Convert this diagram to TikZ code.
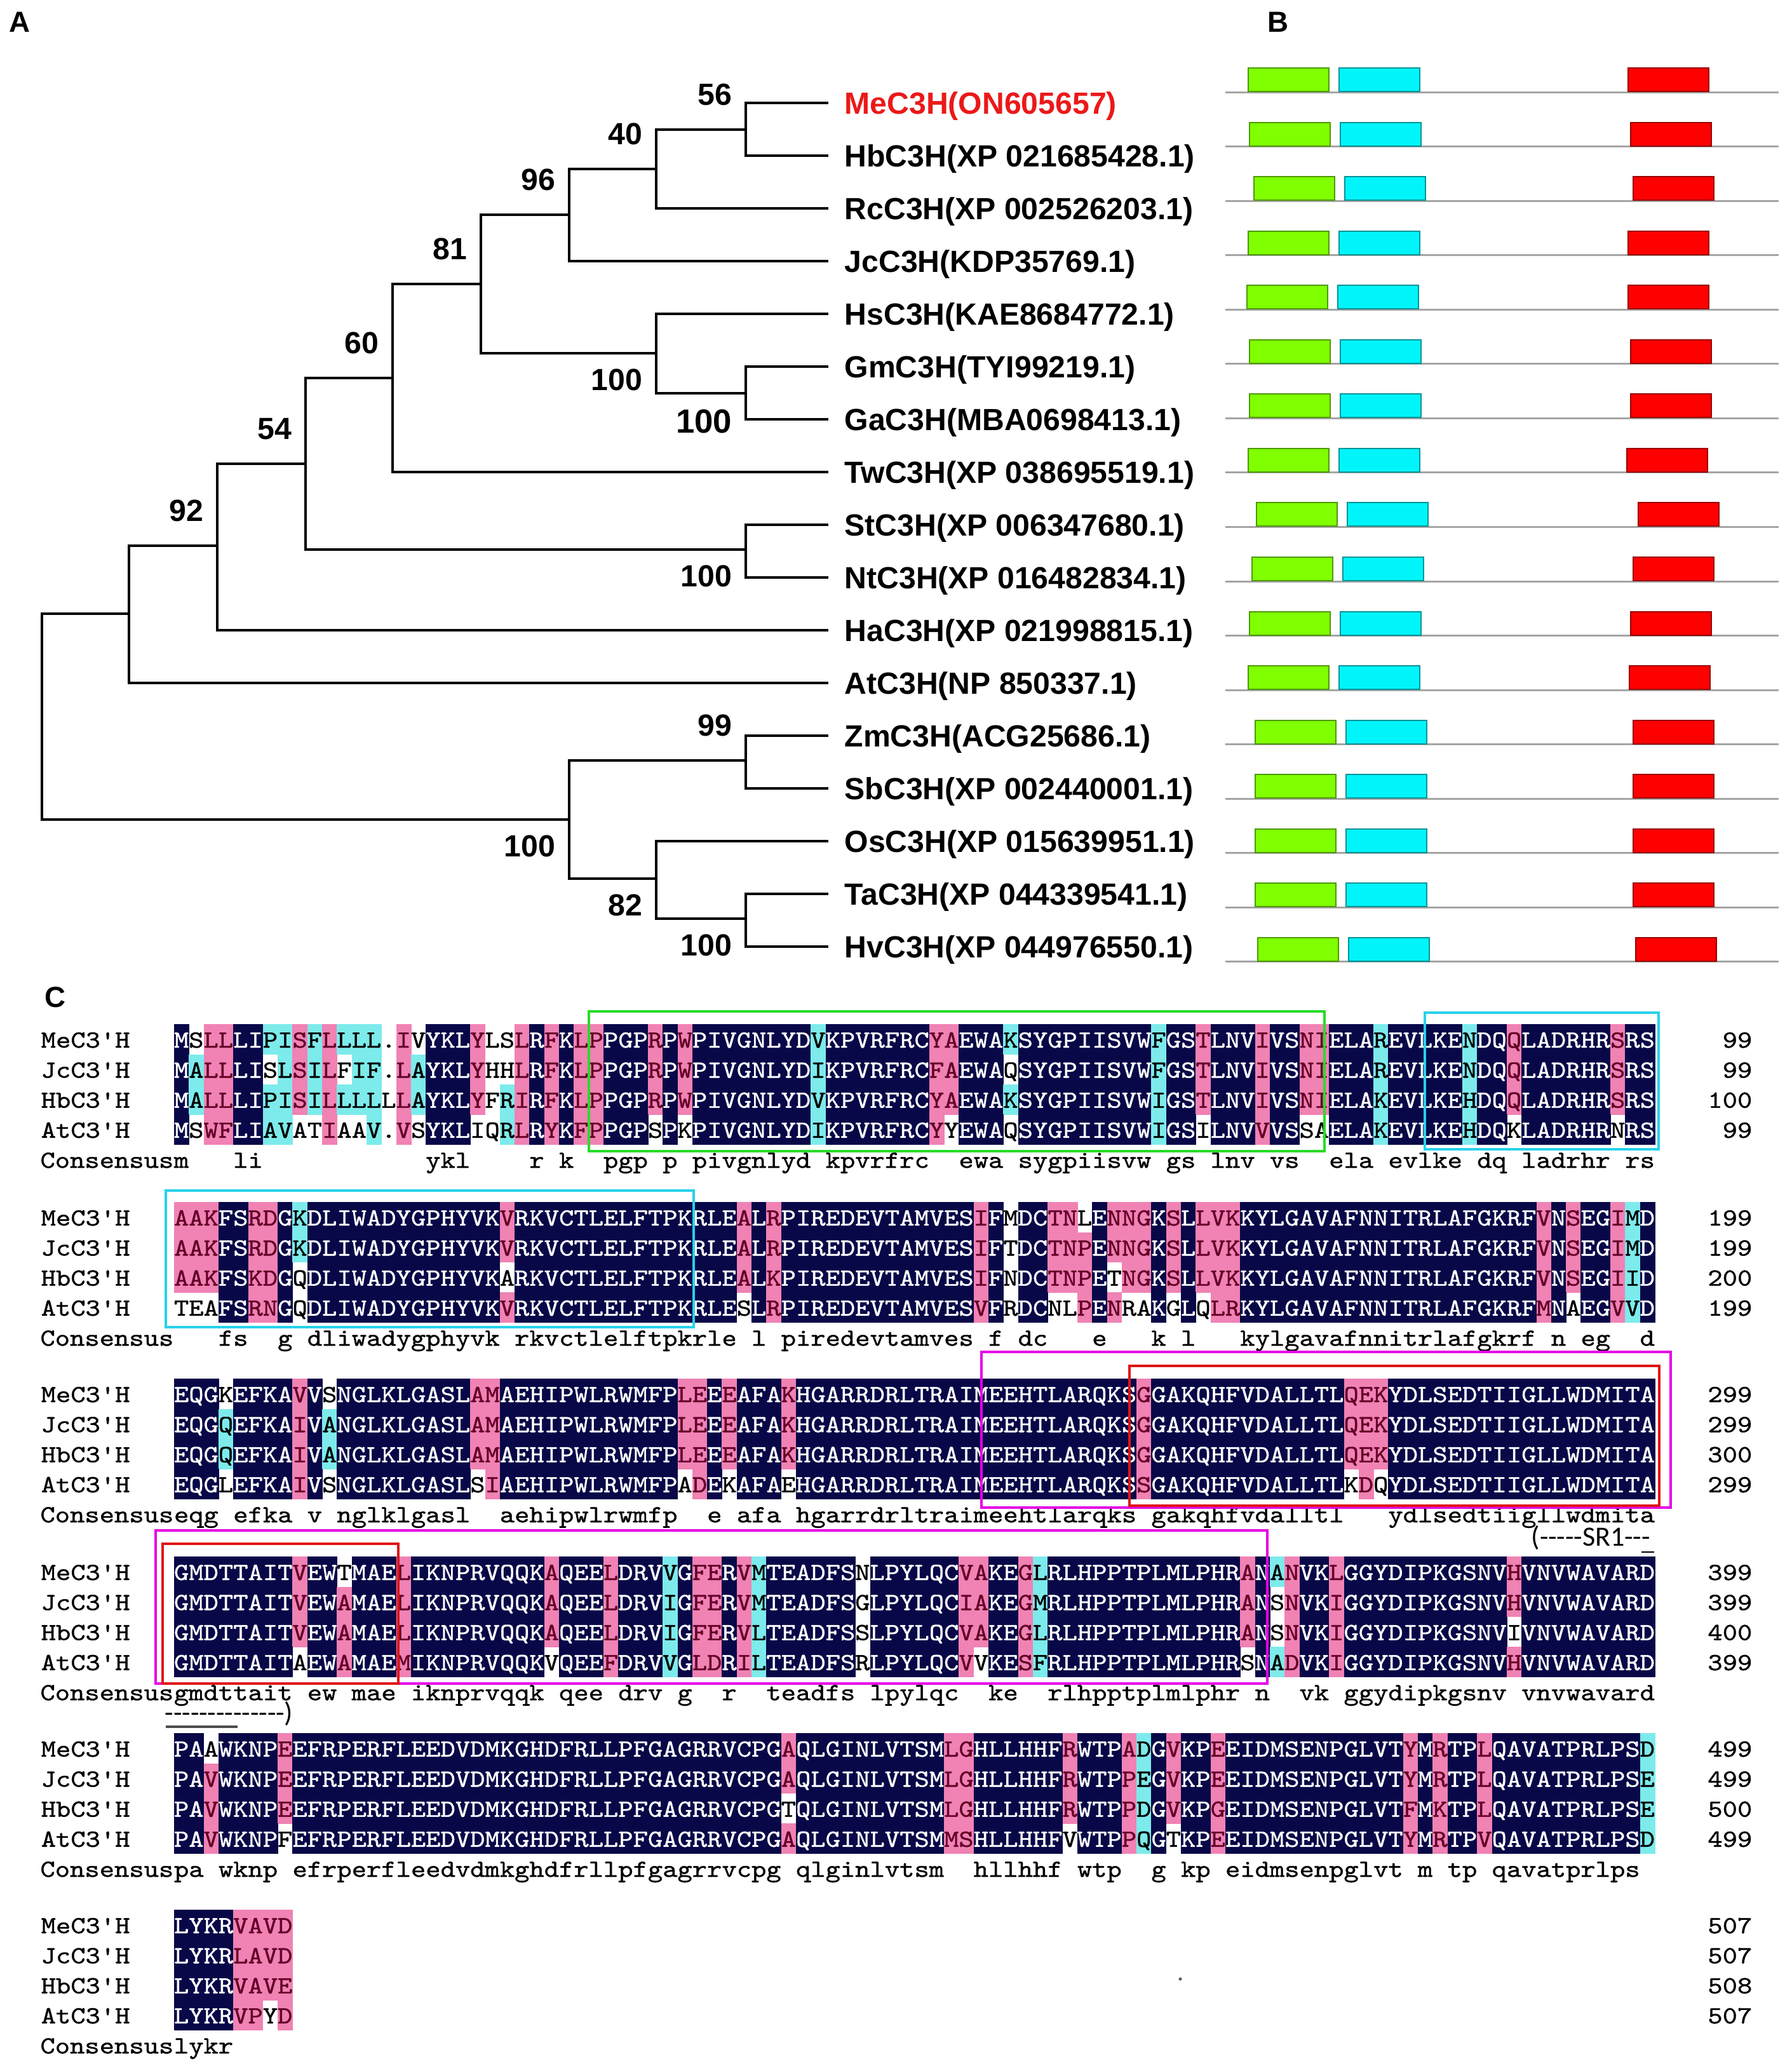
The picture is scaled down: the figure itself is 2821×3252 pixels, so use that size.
\documentclass[tikz,border=0pt]{standalone}
\usepackage{fontspec}
\setmainfont{Liberation Sans}
\setmonofont{lmmono10-regular.otf}[FakeStretch=1.1487, FakeBold=1]
\newfontfamily\srfont{Carlito}
\usetikzlibrary{calc}

\definecolor{alnavy}{RGB}{8,8,72}
\definecolor{alpink}{RGB}{240,130,180}
\definecolor{alcyan}{RGB}{125,235,235}
\definecolor{alpinktx}{RGB}{100,0,40}
\definecolor{meRed}{RGB}{235,25,25}
\definecolor{domGreen}{RGB}{128,255,0}
\definecolor{domCyan}{RGB}{0,245,250}
\definecolor{domRed}{RGB}{255,0,0}
\definecolor{boxGreen}{RGB}{40,220,40}
\definecolor{boxCyan}{RGB}{40,210,235}
\definecolor{boxMag}{RGB}{230,0,230}
\definecolor{boxRed}{RGB}{225,20,20}

% one residue cell: #1 letter, #2 colour code (n navy, p pink, c cyan, w none)
\newcounter{alc}
\newcommand\alcell[2]{%
  \pgfmathsetmacro\alxx{274+\thealc*23.31}%
  \if#2w\else\fill[bg#2] (\alxx,\aly-23.8) rectangle +(23.9,47.8);\fi
  \node[res,tx#2] (\altag-\thealc) at (\alxx+11.65,\aly+13) {#1};%
  \stepcounter{alc}}
\def\aldrop#1{}
\def\alkeep#1{#1}
\def\alnext#1#2\relax#3#4\relax{%
  \alcell{#1}{#3}%
  \ifx\relax#2\relax\expandafter\aldrop\else\expandafter\alkeep\fi
  {\alnext#2\relax#4\relax}}
\def\alcnext#1#2\relax{%
  \alcell{#1}{w}%
  \ifx\relax#2\relax\expandafter\aldrop\else\expandafter\alkeep\fi
  {\alcnext#2\relax}}
\newcommand\alrow[4]{\def\altag{#1}\def\aly{#2}\setcounter{alc}{0}\alnext#3\relax#4\relax}
\newcommand\alcons[3]{%
  \def\altag{#1}\def\aly{#2}\setcounter{alc}{0}\alcnext#3\relax
  \node[seqtxt,anchor=base east] (cl#1) at (274,#2+13) {Consensus};}
\newcommand\alname[4]{%
  \node[seqtxt,anchor=base west] (nm#1) at (64,#2+13) {#3};
  \node[seqtxt,anchor=base east] (no#1) at (2759,#2+13) {#4};}

\begin{document}
\begin{tikzpicture}[
    x=0.1mm, y=-0.1mm,
    branch/.style={line width=0.4mm, line cap=rect},
    leaf/.style={font=\fontsize{13.7pt}{15pt}\selectfont\bfseries, inner sep=0},
    bs/.style={font=\fontsize{13.7pt}{15pt}\selectfont\bfseries, inner sep=0, anchor=east},
    panel/.style={font=\fontsize{13pt}{15pt}\selectfont\bfseries, inner sep=0},
    dline/.style={draw={rgb,255:red,165;green,165;blue,165}, line width=0.3mm},
    dom/.style={anchor=south west, minimum width=12.7mm, minimum height=3.7mm,
                inner sep=0, line width=0.2mm},
    seqtxt/.style={font=\ttfamily\fontsize{11pt}{13pt}\selectfont, inner sep=0},
    res/.style={seqtxt, anchor=base},
    bgn/.style={fill=alnavy}, bgp/.style={fill=alpink}, bgc/.style={fill=alcyan},
    txn/.style={text=white}, txp/.style={text=alpinktx},
    txc/.style={text=black}, txw/.style={text=black},
    regbox/.style={line width=0.35mm},
    sr/.style={font=\srfont\fontsize{12.5pt}{14pt}\selectfont, inner sep=0, anchor=west}
  ]
  \useasboundingbox (0,0) rectangle (2821,3252);
  \fill[white] (0,0) rectangle (2821,3252);

  % Panel letters
  \node[panel] (pA) at (31,35) {A};
  \node[panel] (pB) at (2012,35) {B};
  \node[panel] (pC) at (87,1570) {C};

  % Tree: leaves
  \foreach \nm [count=\i] in {{MeC3H(ON605657)},{HbC3H(XP 021685428.1)},
      {RcC3H(XP 002526203.1)},{JcC3H(KDP35769.1)},{HsC3H(KAE8684772.1)},
      {GmC3H(TYI99219.1)},{GaC3H(MBA0698413.1)},{TwC3H(XP 038695519.1)},
      {StC3H(XP 006347680.1)},{NtC3H(XP 016482834.1)},{HaC3H(XP 021998815.1)},
      {AtC3H(NP 850337.1)},{ZmC3H(ACG25686.1)},{SbC3H(XP 002440001.1)},
      {OsC3H(XP 015639951.1)},{TaC3H(XP 044339541.1)},{HvC3H(XP 044976550.1)}} {
    \pgfmathsetmacro{\ly}{79+83*\i}
    \pgfmathsetmacro{\lcol}{\i == 1 ? "meRed" : "black"}
    \coordinate (t\i) at (1302,\ly);
    \node[leaf, text=\lcol, anchor=base west] (lf\i) at (1329,\ly+17) {\nm};
  }

  % Tree: internal nodes
  \coordinate (nMeHb) at (1174,203.5);
  \coordinate (nRc) at (1033,265.75);
  \coordinate (nJc) at (896,338.4);
  \coordinate (nGmGa) at (1174,618.5);
  \coordinate (nHs) at (1033,556.25);
  \coordinate (nEu) at (757,447.3);
  \coordinate (nTw) at (618,595.2);
  \coordinate (nStNt) at (1174,864.5);
  \coordinate (nSol) at (481,729.8);
  \coordinate (nHa) at (342,859.4);
  \coordinate (nAt) at (203,965.7);
  \coordinate (nZmSb) at (1174,1196.5);
  \coordinate (nTaHv) at (1174,1445.5);
  \coordinate (nOs) at (1033,1383);
  \coordinate (nMono) at (896,1290);
  \coordinate (nRoot) at (66,1127.9);

  \draw[branch] (t1) -| (nMeHb) |- (t2);
  \draw[branch] (nMeHb) -| (nRc) |- (t3);
  \draw[branch] (nRc) -| (nJc) |- (t4);
  \draw[branch] (t6) -| (nGmGa) |- (t7);
  \draw[branch] (t5) -| (nHs) |- (nGmGa);
  \draw[branch] (nJc) -| (nEu) |- (nHs);
  \draw[branch] (nEu) -| (nTw) |- (t8);
  \draw[branch] (t9) -| (nStNt) |- (t10);
  \draw[branch] (nTw) -| (nSol) |- (nStNt);
  \draw[branch] (nSol) -| (nHa) |- (t11);
  \draw[branch] (nHa) -| (nAt) |- (t12);
  \draw[branch] (t13) -| (nZmSb) |- (t14);
  \draw[branch] (t16) -| (nTaHv) |- (t17);
  \draw[branch] (t15) -| (nOs) |- (nTaHv);
  \draw[branch] (nZmSb) -| (nMono) |- (nOs);
  \draw[branch] (nAt) -| (nRoot) |- (nMono);

  % Bootstrap values
  \node[bs] (bsMeHb) at ($(nMeHb)+(-21,-55)$) {56};
  \node[bs] (bsRc) at ($(nRc)+(-21,-55)$) {40};
  \node[bs] (bsJc) at ($(nJc)+(-21,-55)$) {96};
  \node[bs] (bsEu) at ($(nEu)+(-21,-55)$) {81};
  \node[bs] (bsTw) at ($(nTw)+(-21,-55)$) {60};
  \node[bs] (bsSol) at ($(nSol)+(-21,-55)$) {54};
  \node[bs] (bsHa) at ($(nHa)+(-21,-55)$) {92};
  \node[bs] (bsZmSb) at ($(nZmSb)+(-21,-55)$) {99};
  \node[bs] (bsHs) at ($(nHs)+(-21,42)$) {100};
  \node[bs, font=\fontsize{15pt}{17pt}\selectfont\bfseries] (bsGmGa) at ($(nGmGa)+(-21,45)$) {100};
  \node[bs] (bsStNt) at ($(nStNt)+(-21,42)$) {100};
  \node[bs] (bsMono) at ($(nMono)+(-21,42)$) {100};
  \node[bs] (bsOs) at ($(nOs)+(-21,42)$) {82};
  \node[bs] (bsTaHv) at ($(nTaHv)+(-21,42)$) {100};

  % Domains (B)
  \foreach \gx/\rx [count=\i] in {1964/2562,1966/2566,1973/2570,1964/2562,1962/2562,
      1966/2566,1966/2566,1964/2560,1977/2578,1970/2570,1966/2566,1964/2564,
      1975/2570,1975/2570,1975/2570,1975/2570,1979/2574} {
    \pgfmathsetmacro{\by}{145+85.56*(\i-1)}
    \coordinate (bl\i) at (1929,\by);
    \coordinate (br\i) at (2800,\by);
    \draw[dline] (bl\i) -- (br\i);
    \node[dom, fill=domGreen, draw=domGreen!60!black] (dg\i) at (\gx,\by) {};
    \node[dom, fill=domCyan, draw=domCyan!60!black] (dc\i) at (\gx+143,\by) {};
    \node[dom, fill=domRed, draw=domRed!60!black] (dr\i) at (\rx,\by) {};
  }

  % Alignment block 1
  \alrow{b1me}{1636}{MSLLLIPISF LLLL.IVYKL YLSLRFKLPP GPRPWPIVGN LYDVKPVRFR CYAEWAKSYG PIISVWFGST LNVIVSNIEL AREVLKENDQ QLADRHRSRS}{nwppnnccpc pcccwpwnnn pwwpnpnppn nnpnpnnnnn nnncnnnnnn nppnnncnnn nnnnnncnnp nnnpnnppnn ncnnnnncnn pnnnnnnpnn}
  \alrow{b1jc}{1683.3}{MALLLISLSI LFIF.LAYKL YHHLRFKLPP GPRPWPIVGN LYDIKPVRFR CFAEWAQSYG PIISVWFGST LNVIVSNIEL AREVLKENDQ QLADRHRSRS}{ncppnnwcpc pwccwpcnnn pwwpnpnppn nnpnpnnnnn nnncnnnnnn nppnnnwnnn nnnnnncnnp nnnpnnppnn ncnnnnncnn pnnnnnnpnn}
  \alrow{b1hb}{1730.6}{MALLLIPISI LLLLLLAYKL YFRIRFKLPP GPRPWPIVGN LYDVKPVRFR CYAEWAKSYG PIISVWIGST LNVIVSNIEL AKEVLKEHDQ QLADRHRSRS}{ncppnnccpc pcccwpcnnn pwcpnpnppn nnpnpnnnnn nnncnnnnnn nppnnncnnn nnnnnncnnp nnnpnnppnn ncnnnnncnn pnnnnnnpnn}
  \alrow{b1at}{1777.9}{MSWFLIAVAT IAAV.VSYKL IQRLRYKFPP GPSPKPIVGN LYDIKPVRFR CYYEWAQSYG PIISVWIGSI LNVVVSSAEL AKEVLKEHDQ KLADRHRNRS}{nwppnnccww pwwcwpwnnn wwcpnpnppn nnwnwnnnnn nnncnnnnnn npwnnnwnnn nnnnnncnnw nnnpnnwwnn ncnnnnncnn wnnnnnnwnn}
  \alname{b1me}{1636}{MeC3'H}{99}
  \alname{b1jc}{1683.3}{JcC3'H}{99}
  \alname{b1hb}{1730.6}{HbC3'H}{100}
  \alname{b1at}{1777.9}{AtC3'H}{99}
  \alcons{c1}{1825.2}{m~~~li~~~~~~~~~~~ykl~~~~r~k~~pgp~p~pivgnlyd~kpvrfrc~~ewa~sygpiisvw~gs~lnv~vs~~ela~evlke~dq~ladrhr~rs}

  % Alignment block 2
  \alrow{b2me}{1916}{AAKFSRDGKD LIWADYGPHY VKVRKVCTLE LFTPKRLEAL RPIREDEVTA MVESIFMDCT NLENNGKSLL VKKYLGAVAF NNITRLAFGK RFVNSEGIMD}{pppnnppncn nnnnnnnnnn nnpnnnnnnn nnnnnnnnpn pnnnnnnnnn nnnnpnwnnp pwnpppnpnp ppnnnnnnnn nnnnnnnnnn nnpnpnnpcn}
  \alrow{b2jc}{1963.3}{AAKFSRDGKD LIWADYGPHY VKVRKVCTLE LFTPKRLEAL RPIREDEVTA MVESIFTDCT NPENNGKSLL VKKYLGAVAF NNITRLAFGK RFVNSEGIMD}{pppnnppncn nnnnnnnnnn nnpnnnnnnn nnnnnnnnpn pnnnnnnnnn nnnnpnwnnp ppnpppnpnp ppnnnnnnnn nnnnnnnnnn nnpnpnnpcn}
  \alrow{b2hb}{2010.6}{AAKFSKDGQD LIWADYGPHY VKARKVCTLE LFTPKRLEAL KPIREDEVTA MVESIFNDCT NPETNGKSLL VKKYLGAVAF NNITRLAFGK RFVNSEGIID}{pppnnppnwn nnnnnnnnnn nnwnnnnnnn nnnnnnnnpn pnnnnnnnnn nnnnpnwnnp ppnwppnpnp ppnnnnnnnn nnnnnnnnnn nnpnpnnpcn}
  \alrow{b2at}{2057.9}{TEAFSRNGQD LIWADYGPHY VKVRKVCTLE LFTPKRLESL RPIREDEVTA MVESVFRDCN LPENRAKGLQ LRKYLGAVAF NNITRLAFGK RFMNAEGVVD}{wwwnnppnwn nnnnnnnnnn nnpnnnnnnn nnnnnnnnwn pnnnnnnnnn nnnnpnwnnw wpnpwwnwnw ppnnnnnnnn nnnnnnnnnn nnpnwnnpcn}
  \alname{b2me}{1916}{MeC3'H}{199}
  \alname{b2jc}{1963.3}{JcC3'H}{199}
  \alname{b2hb}{2010.6}{HbC3'H}{200}
  \alname{b2at}{2057.9}{AtC3'H}{199}
  \alcons{c2}{2105.2}{~~~fs~~g~dliwadygphyvk~rkvctlelftpkrle~l~piredevtamves~f~dc~~~e~~~k~l~~~kylgavafnnitrlafgkrf~n~eg~~d}

  % Alignment block 3
  \alrow{b3me}{2194}{EQGKEFKAVV SNGLKLGASL AMAEHIPWLR WMFPLEEEAF AKHGARRDRL TRAIMEEHTL ARQKSGGAKQ HFVDALLTLQ EKYDLSEDTI IGLLWDMITA}{nnnwnnnnpn wnnnnnnnnn ppnnnnnnnn nnnnppnpnn npnnnnnnnn nnnnnnnnnn nnnnnpnnnn nnnnnnnnnp ppnnnnnnnn nnnnnnnnnn}
  \alrow{b3jc}{2241.3}{EQGQEFKAIV ANGLKLGASL AMAEHIPWLR WMFPLEEEAF AKHGARRDRL TRAIMEEHTL ARQKSGGAKQ HFVDALLTLQ EKYDLSEDTI IGLLWDMITA}{nnncnnnnpn cnnnnnnnnn ppnnnnnnnn nnnnppnpnn npnnnnnnnn nnnnnnnnnn nnnnnpnnnn nnnnnnnnnp ppnnnnnnnn nnnnnnnnnn}
  \alrow{b3hb}{2288.6}{EQGQEFKAIV ANGLKLGASL AMAEHIPWLR WMFPLEEEAF AKHGARRDRL TRAIMEEHTL ARQKSGGAKQ HFVDALLTLQ EKYDLSEDTI IGLLWDMITA}{nnncnnnnpn cnnnnnnnnn ppnnnnnnnn nnnnppnpnn npnnnnnnnn nnnnnnnnnn nnnnnpnnnn nnnnnnnnnp ppnnnnnnnn nnnnnnnnnn}
  \alrow{b3at}{2335.9}{EQGLEFKAIV SNGLKLGASL SIAEHIPWLR WMFPADEKAF AEHGARRDRL TRAIMEEHTL ARQKSSGAKQ HFVDALLTLK DQYDLSEDTI IGLLWDMITA}{nnnwnnnnpn wnnnnnnnnn wpnnnnnnnn nnnnwpnwnn nwnnnnnnnn nnnnnnnnnn nnnnnpnnnn nnnnnnnnnw pwnnnnnnnn nnnnnnnnnn}
  \alname{b3me}{2194}{MeC3'H}{299}
  \alname{b3jc}{2241.3}{JcC3'H}{299}
  \alname{b3hb}{2288.6}{HbC3'H}{300}
  \alname{b3at}{2335.9}{AtC3'H}{299}
  \alcons{c3}{2383.2}{eqg~efka~v~nglklgasl~~aehipwlrwmfp~~e~afa~hgarrdrltraimeehtlarqks~gakqhfvdalltl~~~ydlsedtiigllwdmita}

  % Alignment block 4
  \alrow{b4me}{2474}{GMDTTAITVE WTMAELIKNP RVQQKAQEEL DRVVGFERVM TEADFSNLPY LQCVAKEGLR LHPPTPLMLP HRANANVKLG GYDIPKGSNV HVNVWAVARD}{nnnnnnnnpn nwnnnpnnnn nnnnnpnnnp nnncnppnpc nnnnnnwnnn nnnppnnpcn nnnnnnnnnn nnpncpnnpn nnnnnnnnnn pnnnnnnnnn}
  \alrow{b4jc}{2521.3}{GMDTTAITVE WAMAELIKNP RVQQKAQEEL DRVIGFERVM TEADFSGLPY LQCIAKEGMR LHPPTPLMLP HRANSNVKIG GYDIPKGSNV HVNVWAVARD}{nnnnnnnnpn npnnnpnnnn nnnnnpnnnp nnncnppnpc nnnnnnwnnn nnnppnnpcn nnnnnnnnnn nnpnwpnnpn nnnnnnnnnn pnnnnnnnnn}
  \alrow{b4hb}{2568.6}{GMDTTAITVE WAMAELIKNP RVQQKAQEEL DRVIGFERVL TEADFSSLPY LQCVAKEGLR LHPPTPLMLP HRANSNVKIG GYDIPKGSNV IVNVWAVARD}{nnnnnnnnpn npnnnpnnnn nnnnnpnnnp nnncnppnpc nnnnnnwnnn nnnppnnpcn nnnnnnnnnn nnpnwpnnpn nnnnnnnnnn wnnnnnnnnn}
  \alrow{b4at}{2615.9}{GMDTTAITAE WAMAEMIKNP RVQQKVQEEF DRVVGLDRIL TEADFSRLPY LQCVVKESFR LHPPTPLMLP HRSNADVKIG GYDIPKGSNV HVNVWAVARD}{nnnnnnnnwn npnnnpnnnn nnnnnwnnnp nnncnppnpc nnnnnnwnnn nnnpwnnpcn nnnnnnnnnn nnwncpnnpn nnnnnnnnnn pnnnnnnnnn}
  \alname{b4me}{2474}{MeC3'H}{399}
  \alname{b4jc}{2521.3}{JcC3'H}{399}
  \alname{b4hb}{2568.6}{HbC3'H}{400}
  \alname{b4at}{2615.9}{AtC3'H}{399}
  \alcons{c4}{2663.2}{gmdttait~ew~mae~iknprvqqk~qee~drv~g~~r~~teadfs~lpylqc~~ke~~rlhpptplmlphr~n~~vk~ggydipkgsnv~vnvwavard}

  % Alignment block 5
  \alrow{b5me}{2752}{PAAWKNPEEF RPERFLEEDV DMKGHDFRLL PFGAGRRVCP GAQLGINLVT SMLGHLLHHF RWTPADGVKP EEIDMSENPG LVTYMRTPLQ AVATPRLPSD}{nnwnnnnpnn nnnnnnnnnn nnnnnnnnnn nnnnnnnnnn npnnnnnnnn nnppnnnnnn pnnnpcnpnn pnnnnnnnnn nnnpnpnnpn nnnnnnnnnc}
  \alrow{b5jc}{2799.3}{PAVWKNPEEF RPERFLEEDV DMKGHDFRLL PFGAGRRVCP GAQLGINLVT SMLGHLLHHF RWTPPEGVKP EEIDMSENPG LVTYMRTPLQ AVATPRLPSE}{nnpnnnnpnn nnnnnnnnnn nnnnnnnnnn nnnnnnnnnn npnnnnnnnn nnppnnnnnn pnnnpcnpnn pnnnnnnnnn nnnpnpnnpn nnnnnnnnnc}
  \alrow{b5hb}{2846.6}{PAVWKNPEEF RPERFLEEDV DMKGHDFRLL PFGAGRRVCP GTQLGINLVT SMLGHLLHHF RWTPPDGVKP GEIDMSENPG LVTFMKTPLQ AVATPRLPSE}{nnpnnnnpnn nnnnnnnnnn nnnnnnnnnn nnnnnnnnnn nwnnnnnnnn nnppnnnnnn pnnnpcnpnn pnnnnnnnnn nnnpnpnnpn nnnnnnnnnc}
  \alrow{b5at}{2893.9}{PAVWKNPFEF RPERFLEEDV DMKGHDFRLL PFGAGRRVCP GAQLGINLVT SMMSHLLHHF VWTPPQGTKP EEIDMSENPG LVTYMRTPVQ AVATPRLPSD}{nnpnnnnwnn nnnnnnnnnn nnnnnnnnnn nnnnnnnnnn npnnnnnnnn nnppnnnnnn wnnnpcnwnn pnnnnnnnnn nnnpnpnnpn nnnnnnnnnc}
  \alname{b5me}{2752}{MeC3'H}{499}
  \alname{b5jc}{2799.3}{JcC3'H}{499}
  \alname{b5hb}{2846.6}{HbC3'H}{500}
  \alname{b5at}{2893.9}{AtC3'H}{499}
  \alcons{c5}{2941.2}{pa~wknp~efrperfleedvdmkghdfrllpfgagrrvcpg~qlginlvtsm~~hllhhf~wtp~~g~kp~eidmsenpglvt~m~tp~qavatprlps}

  % Alignment block 6
  \alrow{b6me}{3030}{LYKRVAVD}{nnnnpppp}
  \alrow{b6jc}{3077.3}{LYKRLAVD}{nnnnpppp}
  \alrow{b6hb}{3124.6}{LYKRVAVE}{nnnnpppp}
  \alrow{b6at}{3171.9}{LYKRVPYD}{nnnnppwp}
  \alname{b6me}{3030}{MeC3'H}{507}
  \alname{b6jc}{3077.3}{JcC3'H}{507}
  \alname{b6hb}{3124.6}{HbC3'H}{508}
  \alname{b6at}{3171.9}{AtC3'H}{507}
  \alcons{c6}{3219.2}{lykr}

  % Motif boxes
  \draw[regbox, boxGreen] (927,1592) rectangle (2085,1812);
  \draw[regbox, boxCyan] (2243,1594) rectangle (2611,1809);
  \draw[regbox, boxCyan] (261,1874) rectangle (1092,2089);
  \draw[regbox, boxMag] (1545,2128) rectangle (2630,2373);
  \draw[regbox, boxRed] (1778,2150) rectangle (2612,2370);
  \draw[regbox, boxMag] (245,2409) rectangle (1995,2650);
  \draw[regbox, boxRed] (256,2430) rectangle (627,2650);

  % SR1 marks
  \node[sr] (sr1a) at (2410,2420) {(-{}-{}-{}-{}-SR1-{}-{}-};
  \draw[line width=0.2mm] (2584,2443) -- (2604,2443);
  \node[sr] (sr1b) at (259,2697) {-{}-{}-{}-{}-{}-{}-{}-{}-{}-{}-{}-{}-{}-)};
  \draw[line width=0.4mm, gray!60!black] (261,2718) -- (374,2718);
  \fill[gray!70!black] (1858,3115) circle (2.5);
\end{tikzpicture}
\end{document}
